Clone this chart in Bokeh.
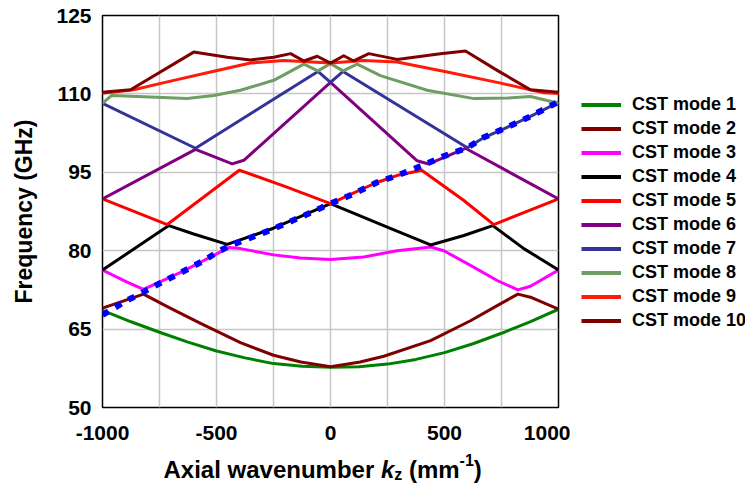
from bokeh.plotting import figure
from bokeh.layouts import row, column
from bokeh.models import FixedTicker, Legend, LegendItem, Range1d
from bokeh.core.properties import value
from bokeh.embed import file_html
from bokeh.resources import INLINE

# Dispersion curves: axial wavenumber kz (mm^-1) vs frequency (GHz)
mode1_kz = [-1000, -875, -750, -625, -500, -375, -250, -125, 0, 125, 250, 375, 500, 625, 750, 875, 1000]
mode1_f = [68.6, 66.4, 64.4, 62.5, 60.8, 59.5, 58.4, 57.9, 57.7, 57.8, 58.3, 59.2, 60.5, 62.2, 64.2, 66.4, 68.8]

mode2_kz = [-1000, -820, -716, -570, -395, -250, -130, 0, 130, 234, 439, 614, 731, 822, 877, 1000]
mode2_f = [69.0, 71.7, 69.3, 66.1, 62.4, 60.0, 58.7, 57.8, 58.7, 59.8, 62.8, 66.6, 69.5, 71.7, 71.1, 68.8]

mode3_kz = [-1000, -892, -820, -650, -446, -395, -249, -132, 0, 146, 292, 439, 497, 614, 731, 822, 877, 1000]
mode3_f = [76.3, 74.0, 72.6, 76.0, 80.6, 80.4, 79.2, 78.6, 78.3, 78.8, 80.0, 80.7, 80.0, 77.2, 74.3, 72.5, 73.2, 76.3]

mode4_kz = [-1000, -709, -600, -453, -250, 0, 249, 439, 585, 712, 848, 1000]
mode4_f = [76.3, 84.8, 83.2, 81.2, 84.3, 89.0, 84.5, 81.1, 82.9, 84.8, 80.4, 76.3]

mode5_kz = [-1000, -716, -400, -200, 0, 100, 200, 300, 400, 585, 716, 1000]
mode5_f = [89.9, 85.0, 95.4, 92.3, 89.0, 91.0, 93.0, 94.5, 95.4, 89.6, 85.0, 89.9]

mode6_kz = [-1000, -592, -431, -380, 0, 380, 431, 592, 1000]
mode6_f = [89.9, 99.4, 96.6, 97.3, 112.2, 97.2, 96.6, 99.6, 89.9]

mode7_kz = [-1000, -592, -55, 0, 55, 600, 675, 770, 877, 1000]
mode7_f = [108.2, 99.6, 114.3, 112.2, 114.3, 99.7, 101.7, 103.5, 105.7, 108.4]

mode8_kz = [-1000, -960, -790, -629, -512, -395, -249, -117, -55, 0, 55, 117, 219, 424, 629, 775, 877, 1000]
mode8_f = [108.2, 109.7, 109.4, 109.1, 109.7, 110.7, 112.6, 115.7, 114.4, 115.8, 114.4, 115.7, 113.5, 110.7, 109.1, 109.2, 109.5, 108.2]

mode9_kz = [-1000, -863, -716, -526, -351, -205, 0, 146, 292, 512, 731, 936, 1000]
mode9_f = [110.1, 110.8, 112.3, 114.2, 115.9, 116.4, 115.9, 116.4, 116.1, 114.2, 112.2, 110.2, 110.1]

mode10_kz = [-1000, -877, -600, -453, -351, -249, -175, -117, -58, 0, 58, 102, 168, 292, 482, 592, 731, 877, 1000]
mode10_f = [110.3, 110.8, 118.0, 117.0, 116.5, 117.0, 117.7, 116.3, 117.2, 115.9, 117.3, 116.3, 117.7, 116.6, 117.7, 118.2, 114.5, 110.8, 110.3]

# beam line (dashed blue)
beam_kz = [-1000, -892, -811, -738, -665, -556, -490, -439, -344, -249, -175, -117, 0, 102, 205, 300, 402, 504, 600, 673, 768, 877, 1000]
beam_f = [67.7, 70.5, 72.3, 74.0, 75.6, 78.1, 79.9, 81.0, 82.6, 84.2, 85.6, 86.7, 89.0, 90.9, 93.1, 94.5, 96.3, 98.2, 99.7, 101.7, 103.5, 105.7, 108.5]

mode_labels = [f"CST mode {i}" for i in range(1, 11)]
mode_colors = ["#008000", "#800000", "#FF00FF", "#000000", "#FF0000",
               "#800080", "#333399", "#6E9E64", "#FF1A0A", "#800000"]

x_major = [-1000, -500, 0, 500, 1000]
x_minor = [-750, -250, 250, 750]
x_tick_text = {-1000: "-1000", -500: "-500", 0: "0", 500: "500", 1000: "1000"}
y_ticks = [50, 65, 80, 95, 110, 125]

FONT = "Liberation Sans"

# ---- main plot ----
p = figure(width=570, height=449, output_backend="svg", toolbar_location=None,
           x_range=Range1d(-1000, 1000), y_range=Range1d(50, 125),
           min_border_left=102, min_border_right=12, min_border_top=15, min_border_bottom=42)
p.background_fill_color = "white"
p.border_fill_color = "white"
p.outline_line_color = "black"
p.outline_line_width = 1.5

p.xaxis.ticker = FixedTicker(ticks=x_major, minor_ticks=x_minor)
p.xaxis.major_label_overrides = x_tick_text
p.yaxis.ticker = FixedTicker(ticks=y_ticks)
p.xgrid.ticker = FixedTicker(ticks=x_major, minor_ticks=x_minor)
p.ygrid.ticker = FixedTicker(ticks=y_ticks)
for g in (p.xgrid, p.ygrid):
    g.grid_line_color = "#C6C6C6"
    g.grid_line_width = 1.5
p.xgrid.minor_grid_line_color = "#C6C6C6"
p.xgrid.minor_grid_line_width = 1.5

for ax in (p.xaxis, p.yaxis):
    ax.axis_line_color = None
    ax.major_tick_line_color = None
    ax.minor_tick_line_color = None
    ax.major_tick_out = 0
    ax.major_tick_in = 0
    ax.major_label_text_font = FONT
    ax.major_label_text_font_size = "21px"
    ax.major_label_text_font_style = "bold"
    ax.major_label_text_color = "black"

p.xaxis.major_label_standoff = 14
p.yaxis.major_label_standoff = 11
p.yaxis.axis_label = "Frequency (GHz)"
p.yaxis.axis_label_text_font = FONT
p.yaxis.axis_label_text_font_size = "23px"
p.yaxis.axis_label_text_font_style = "bold"
p.yaxis.axis_label_text_color = "black"
p.yaxis.axis_label_standoff = 16

series = [(mode1_kz, mode1_f), (mode2_kz, mode2_f), (mode3_kz, mode3_f), (mode4_kz, mode4_f),
          (mode5_kz, mode5_f), (mode6_kz, mode6_f), (mode7_kz, mode7_f), (mode8_kz, mode8_f),
          (mode9_kz, mode9_f), (mode10_kz, mode10_f)]

for (kz, f), col in zip(series, mode_colors):
    p.line(kz, f, line_color=col, line_width=3, line_join="round")

p.line(beam_kz, beam_f, line_color="#0000FF", line_width=6, line_dash="7 8")

# ---- legend panel on the right ----
lg = figure(width=175, height=449, output_backend="svg", toolbar_location=None, title=None,
            x_axis_type=None, y_axis_type=None, x_range=Range1d(0, 1), y_range=Range1d(0, 1),
            min_border=0, min_border_left=0, min_border_right=0, min_border_top=0, min_border_bottom=0)
lg.outline_line_color = None
lg.background_fill_color = "white"
lg.border_fill_color = "white"
items = []
for lab, col in zip(mode_labels, mode_colors):
    # swatch renderers kept outside the visible range; only their legend glyphs show
    r = lg.line([5, 6], [5, 6], line_color=col, line_width=4)
    items.append(LegendItem(label=lab, renderers=[r]))

legend = Legend(items=items, location=(11, 76))
legend.label_text_font = FONT
legend.label_text_font_size = "18px"
legend.label_text_font_style = "bold"
legend.label_text_color = "black"
legend.glyph_width = 40
legend.glyph_height = 21
legend.label_height = 21
legend.label_standoff = 11
legend.spacing = 3
legend.padding = 10
legend.margin = 0
legend.border_line_color = None
legend.background_fill_alpha = 0
lg.add_layout(legend)

# ---- x-axis title strip (italic k, subscript z, superscript -1) ----
xt = figure(width=745, height=41, output_backend="svg", toolbar_location=None, title=None,
            x_axis_type=None, y_axis_type=None, x_range=Range1d(0, 745), y_range=Range1d(0, 41),
            min_border=0, min_border_left=0, min_border_right=0, min_border_top=0, min_border_bottom=0)
xt.outline_line_color = None
xt.background_fill_color = "white"
xt.border_fill_color = "white"
title_parts = [
    ("Axial wavenumber", 163.0, 21, "24px", "bold"),
    ("k", 380.4, 21, "24px", "bold italic"),
    ("z", 393.7, 16, "16px", "bold"),
    ("(mm", 408.4, 21, "24px", "bold"),
    ("-1", 459.1, 31, "16px", "bold"),
    (")", 473.3, 21, "24px", "bold"),
]
for txt, x0, y0, size, style in title_parts:
    xt.text(x=[x0], y=[y0], text=[txt], text_font=value(FONT), text_font_size=value(size),
            text_font_style=style, text_color="black", text_align="left", text_baseline="alphabetic")

layout = column(row(p, lg), xt)
open("out.html", "w").write(file_html(layout, INLINE))
